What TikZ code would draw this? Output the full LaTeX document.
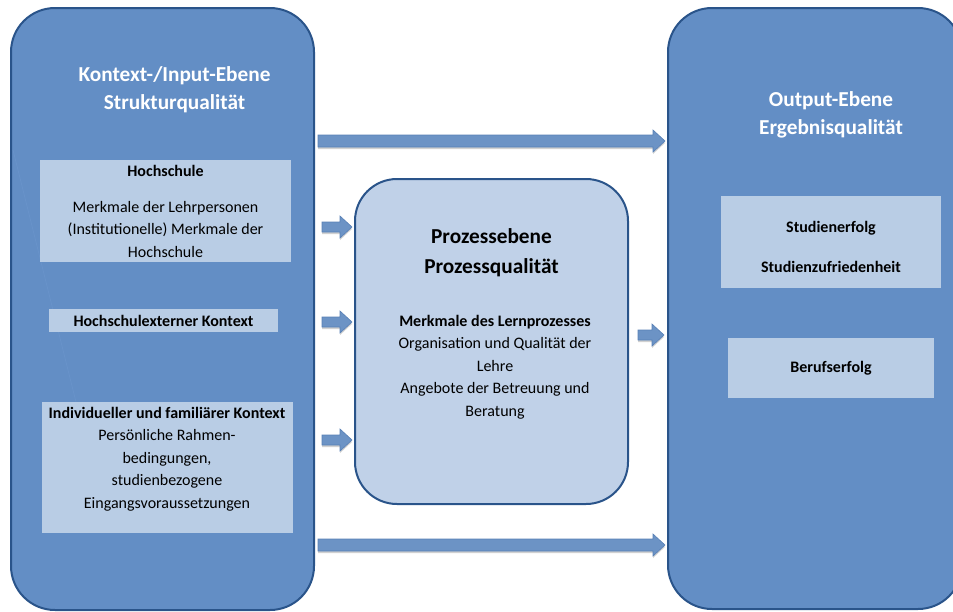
\documentclass[tikz,border=0pt]{standalone}
\usepackage{fontspec}
\setmainfont{Carlito}
\usetikzlibrary{calc}
\definecolor{bigfill}{RGB}{99,142,197}
\definecolor{bigline}{RGB}{42,84,138}
\definecolor{innerfill}{RGB}{185,205,229}
\definecolor{midfill}{RGB}{192,209,232}
\definecolor{arrfill}{RGB}{108,147,197}
\definecolor{arrline}{RGB}{88,128,182}
\definecolor{faintline}{RGB}{106,148,203}
\tikzset{
 bigbox/.style={draw=bigline, line width=2pt, fill=bigfill, rounded corners=44pt, inner sep=0pt},
 midbox/.style={draw=bigline, line width=2pt, fill=midfill, rounded corners=42pt, inner sep=0pt},
 innerbox/.style={fill=innerfill, inner sep=0pt},
 titletext/.style={font=\fontsize{21.3}{28}\selectfont\bfseries, text=white, align=center, inner sep=0pt},
 midtitle/.style={font=\fontsize{21.3}{30}\selectfont\bfseries, text=black, align=center, inner sep=0pt},
 body/.style={font=\fontsize{16}{22.5}\selectfont, align=center, text=black, inner sep=0pt},
 arrowbody/.style={fill=arrfill, draw=arrline, line width=0.6pt},
 arrowshadow/.style={fill=black, opacity=0.18},
}
% #1 style, #2 from, #3 to, #4 y, #5 start gap, #6 end gap, #7 shaft half, #8 head half, #9 head length
\newcommand\barrowdraw[9]{%
 \path[#1] let \p1=(#2), \p2=(#3) in
  (\x1+#5pt,-#4pt+#7pt) -- (\x2-#6pt-#9pt,-#4pt+#7pt) -- (\x2-#6pt-#9pt,-#4pt+#8pt)
  -- (\x2-#6pt,-#4pt) -- (\x2-#6pt-#9pt,-#4pt-#8pt) -- (\x2-#6pt-#9pt,-#4pt-#7pt)
  -- (\x1+#5pt,-#4pt-#7pt) -- cycle;}
\newcommand\barrow[8]{%
 \begin{scope}[shift={(1.5pt,-2pt)}]\barrowdraw{arrowshadow}{#1}{#2}{#3}{#4}{#5}{#6}{#7}{#8}\end{scope}%
 \barrowdraw{arrowbody}{#1}{#2}{#3}{#4}{#5}{#6}{#7}{#8}}
\begin{document}
\begin{tikzpicture}[x=1pt,y=-1pt]
\clip (0,0) rectangle (953,611);
\fill[white] (0,0) rectangle (953,611);
% big boxes
\node[bigbox, minimum width=303pt, minimum height=602pt] (L) at (162.5,309) {};
\node[bigbox, minimum width=294pt, minimum height=601pt] (R) at (815,308.5) {};
\node[midbox, minimum width=273pt, minimum height=325pt] (M) at (491.5,341.5) {};
\draw[faintline, line width=0.6pt] (13,150) -- (76,402);
% inner boxes
\node[innerbox, minimum width=251pt, minimum height=102pt] (hs) at (165.5,211) {};
\node[innerbox, minimum width=229pt, minimum height=23pt] (hx) at (163.5,320.5) {};
\node[innerbox, minimum width=251pt, minimum height=131pt] (ik) at (167.5,467.5) {};
\node[innerbox, minimum width=220pt, minimum height=92pt] (se) at (831,242) {};
\node[innerbox, minimum width=206pt, minimum height=60pt] (be) at (831,368) {};
% arrows
\barrow{L.east}{R.west}{141}{3}{2}{6}{11}{12}
\barrow{L.east}{R.west}{545}{3}{2}{6}{11}{12}
\barrow{L.east}{M.west}{227}{7}{2}{5}{11}{12}
\barrow{L.east}{M.west}{322}{7}{2}{5}{11}{12}
\barrow{L.east}{M.west}{440}{7}{2}{5}{11}{12}
\barrow{M.east}{R.west}{335}{9}{3}{5}{11}{12}
% texts
\node[titletext] (tl) at (174.5,90) {Kontext-/Input-Ebene\\Strukturqualität};
\node[titletext] (tr) at (831,115) {Output-Ebene\\Ergebnisqualität};
\node[midtitle] (tm) at (491.5,253) {Prozessebene\\Prozessqualität};
\node[body] (ths) at (165.5,211) {\textbf{Hochschule}\\[13.5pt]Merkmale der Lehrpersonen\\(Institutionelle) Merkmale der\\Hochschule};
\node[body] (thx) at (163.5,321) {\textbf{Hochschulexterner Kontext}};
\node[body] (tik) at (167,459) {\textbf{Individueller und familiärer Kontext}\\Persönliche Rahmen-\\bedingungen,\\studienbezogene\\Eingangsvoraussetzungen};
\node[body] (tm2) at (495,367) {\textbf{Merkmale des Lernprozesses}\\Organisation und Qualität der\\Lehre\\Angebote der Betreuung und\\Beratung};
\node[body] (tse) at (831,247) {\textbf{Studienerfolg}\\[17.5pt]\textbf{Studienzufriedenheit}};
\node[body] (tbe) at (831,368) {\textbf{Berufserfolg}};
\end{tikzpicture}
\end{document}
